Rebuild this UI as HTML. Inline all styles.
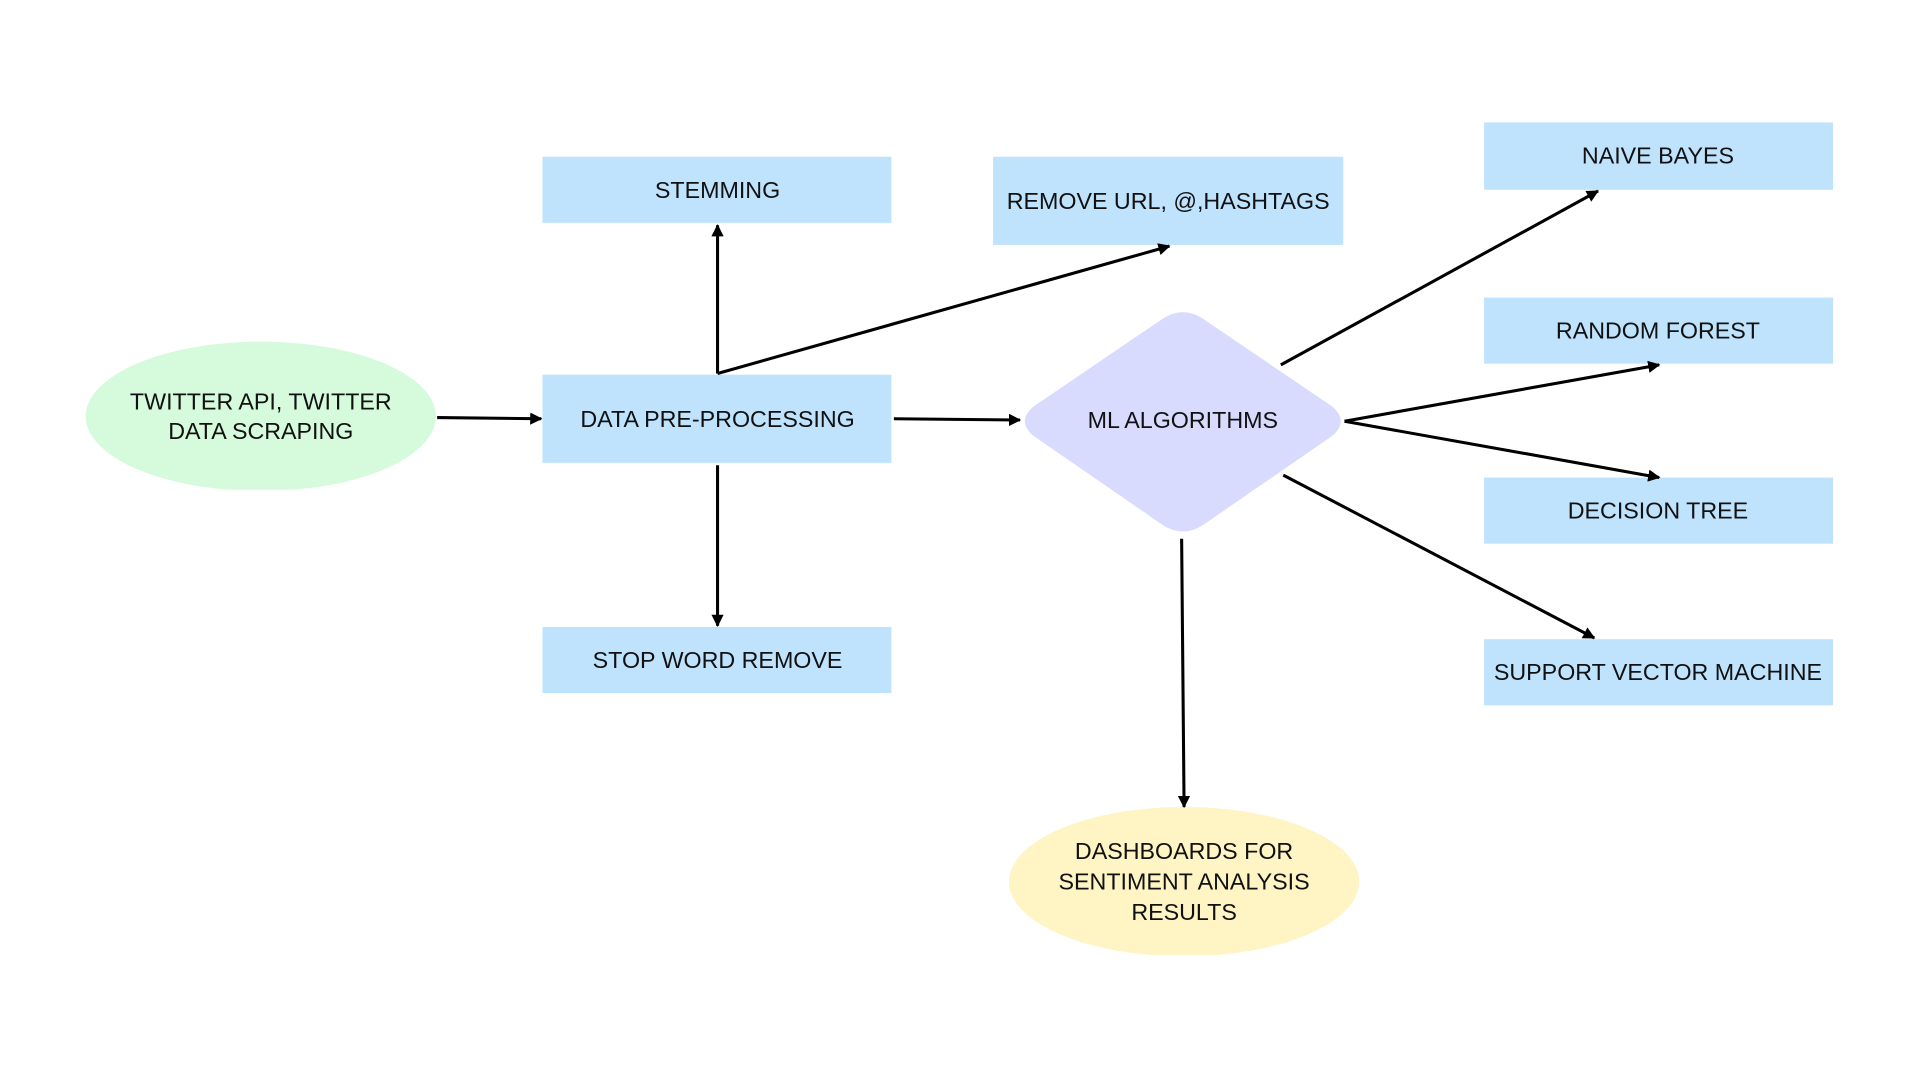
<!DOCTYPE html>
<html><head><style>
html,body{margin:0;padding:0;background:#fff;width:1920px;height:1080px;overflow:hidden}
svg{display:block}
text{font-family:"Liberation Sans",sans-serif;font-size:19px;fill:#111;text-anchor:middle;dominant-baseline:central}
</style></head><body>
<svg width="1920" height="1080" viewBox="0 0 1568 882" xmlns="http://www.w3.org/2000/svg">
<defs>
<marker id="a" viewBox="0 0 10 10" refX="9" refY="5" markerWidth="4" markerHeight="4" orient="auto"><path d="M0,0 L10,5 L0,10 z" fill="#000"/></marker>
<clipPath id="c1"><rect x="60" y="270" width="310" height="130"/></clipPath>
<clipPath id="c2"><rect x="815" y="650" width="310" height="130"/></clipPath>
</defs>
<rect width="1568" height="882" fill="#fff"/>
<ellipse cx="213" cy="340" rx="143" ry="61" fill="#d6fadc" clip-path="url(#c1)"/>
<ellipse cx="967" cy="720" rx="143" ry="61" fill="#fef4c4" clip-path="url(#c2)"/>
<g fill="#bfe3fd">
<rect x="443" y="306" width="285" height="72"/>
<rect x="443" y="128" width="285" height="54"/>
<rect x="443" y="512" width="285" height="54"/>
<rect x="811" y="128" width="286" height="72"/>
<rect x="1212" y="100" width="285" height="55"/>
<rect x="1212" y="243" width="285" height="54"/>
<rect x="1212" y="390" width="285" height="54"/>
<rect x="1212" y="522" width="285" height="54"/>
</g>
<path d="M947,262 Q966,248 985,262 L1088,332 Q1102,344 1088,356 L985,427 Q966,441 947,427 L844,356 Q830,344 844,332 Z" fill="#d8dbfe"/>
<g stroke="#000" stroke-width="2.5" fill="none" marker-end="url(#a)">
<line x1="357" y1="341" x2="442" y2="342"/>
<line x1="586" y1="305" x2="586" y2="184"/>
<line x1="586" y1="305" x2="955" y2="201"/>
<line x1="586" y1="380" x2="586" y2="511"/>
<line x1="730" y1="342" x2="833" y2="343"/>
<line x1="1046" y1="298" x2="1305" y2="156"/>
<line x1="1098" y1="344" x2="1355" y2="298"/>
<line x1="1098" y1="344" x2="1355" y2="390"/>
<line x1="1048" y1="388" x2="1302" y2="521"/>
<line x1="965" y1="440" x2="967" y2="659"/>
</g>
<text x="213" y="328">TWITTER API, TWITTER</text>
<text x="213" y="352">DATA SCRAPING</text>
<text x="586" y="342">DATA PRE-PROCESSING</text>
<text x="586" y="155">STEMMING</text>
<text x="586" y="539">STOP WORD REMOVE</text>
<text x="954" y="164">REMOVE URL, @,HASHTAGS</text>
<text x="966" y="343">ML ALGORITHMS</text>
<text x="1354" y="127">NAIVE BAYES</text>
<text x="1354" y="270">RANDOM FOREST</text>
<text x="1354" y="417">DECISION TREE</text>
<text x="1354" y="549">SUPPORT VECTOR MACHINE</text>
<text x="967" y="695">DASHBOARDS FOR</text>
<text x="967" y="720">SENTIMENT ANALYSIS</text>
<text x="967" y="745">RESULTS</text>
</svg>
</body></html>
